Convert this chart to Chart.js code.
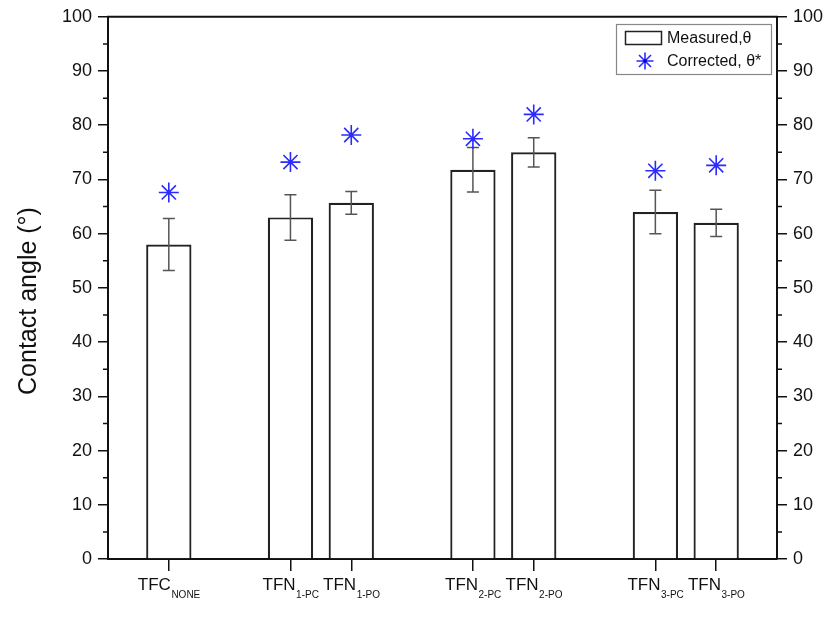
<!DOCTYPE html>
<html>
<head>
<meta charset="utf-8">
<script src="https://cdn.jsdelivr.net/npm/chart.js@4.4.1/dist/chart.umd.min.js"></script>
<style>
    html, body { margin: 0; padding: 0; background: #fff; }
    #wrap { width: 831px; height: 638px; position: relative; }
</style>
</head>
<body>
<div id="wrap"><canvas id="chart"></canvas></div>
<script>
// sample names: main text + subscript
const labelMain = ['TFC', 'TFN', 'TFN', 'TFN', 'TFN', 'TFN', 'TFN'];
const labelSub = ['NONE', '1-PC', '1-PO', '2-PC', '2-PO', '3-PC', '3-PO'];
const positions = [1, 3, 4, 6, 7, 9, 10];
const measured = [58.0, 63.0, 65.7, 71.8, 75.0, 64.0, 62.0];
const errors = [4.8, 4.2, 2.1, 4.1, 2.7, 4.0, 2.5];
const corrected = [67.6, 73.2, 78.2, 77.5, 82.0, 71.6, 72.6];
const yTicks = [0, 10, 20, 30, 40, 50, 60, 70, 80, 90, 100];
const yMinor = [5, 15, 25, 35, 45, 55, 65, 75, 85, 95];

const FONT = '"Liberation Sans", Arial, Helvetica, sans-serif';
const STAR = '#2b2bff';

function drawStar(ctx, x, y, r) {
    ctx.save();
    ctx.strokeStyle = STAR;
    ctx.lineWidth = 1.6;
    ctx.beginPath();
    for (let k = 0; k < 4; k++) {
        const a = k * Math.PI / 4;
        ctx.moveTo(x - r * Math.cos(a), y - r * Math.sin(a));
        ctx.lineTo(x + r * Math.cos(a), y + r * Math.sin(a));
    }
    ctx.stroke();
    ctx.fillStyle = '#0000cc';
    ctx.beginPath();
    ctx.arc(x, y, 1.8, 0, Math.PI * 2);
    ctx.fill();
    ctx.restore();
}

const decorations = {
    id: 'decorations',
    afterDatasetDraw(chart, args) {
        if (args.meta.type !== 'bar') return;
        const x = chart.scales.x, y = chart.scales.y, ctx = chart.ctx;
        ctx.save();
        ctx.strokeStyle = '#555';
        ctx.lineWidth = 1.5;
        positions.forEach((p, i) => {
            const px = x.getPixelForValue(p);
            const top = y.getPixelForValue(measured[i] + errors[i]);
            const bot = y.getPixelForValue(measured[i] - errors[i]);
            ctx.beginPath();
            ctx.moveTo(px, top); ctx.lineTo(px, bot);
            ctx.moveTo(px - 6, top); ctx.lineTo(px + 6, top);
            ctx.moveTo(px - 6, bot); ctx.lineTo(px + 6, bot);
            ctx.stroke();
        });
        ctx.restore();
    },
    afterDraw(chart) {
        const ctx = chart.ctx;
        const area = chart.chartArea;
        const x = chart.scales.x, y = chart.scales.y;
        ctx.save();

        // top frame
        ctx.strokeStyle = '#111';
        ctx.lineWidth = 2;
        ctx.beginPath();
        ctx.moveTo(area.left - 1, area.top);
        ctx.lineTo(area.right + 1, area.top);
        ctx.stroke();

        // minor ticks on both y axes
        ctx.lineWidth = 1.5;
        ctx.beginPath();
        yMinor.forEach(v => {
            const py = y.getPixelForValue(v);
            ctx.moveTo(area.left, py); ctx.lineTo(area.left - 5, py);
            ctx.moveTo(area.right, py); ctx.lineTo(area.right + 5, py);
        });
        ctx.stroke();

        // x labels with subscripts
        ctx.fillStyle = '#111';
        ctx.textBaseline = 'alphabetic';
        ctx.textAlign = 'left';
        positions.forEach((p, i) => {
            const px = x.getPixelForValue(p);
            ctx.font = '17px ' + FONT;
            const w1 = ctx.measureText(labelMain[i]).width;
            ctx.font = '10px ' + FONT;
            const w2 = ctx.measureText(labelSub[i]).width;
            const start = px - (w1 + w2) / 2;
            ctx.font = '17px ' + FONT;
            ctx.fillText(labelMain[i], start, 590);
            ctx.font = '10px ' + FONT;
            ctx.fillText(labelSub[i], start + w1 + 0.5, 598);
        });

        // y title
        ctx.save();
        ctx.translate(29, 301);
        ctx.rotate(-Math.PI / 2);
        ctx.textAlign = 'center';
        ctx.textBaseline = 'middle';
        ctx.font = '25px ' + FONT;
        ctx.fillText('Contact angle (\u00b0)', 0, 0);
        ctx.restore();

        // legend
        ctx.strokeStyle = '#888';
        ctx.lineWidth = 1.2;
        ctx.strokeRect(616.5, 24.5, 155, 50);
        ctx.strokeStyle = '#222';
        ctx.lineWidth = 1.5;
        ctx.strokeRect(625.5, 31.5, 36, 13);
        drawStar(ctx, 645, 61, 8.5);
        ctx.fillStyle = '#111';
        ctx.font = '16px ' + FONT;
        ctx.textBaseline = 'middle';
        ctx.textAlign = 'left';
        ctx.fillText('Measured,\u03b8', 667, 39);
        ctx.fillText('Corrected, \u03b8*', 667, 62);

        ctx.restore();
    }
};

const yScaleBase = {
    min: 0,
    max: 100,
    afterBuildTicks: s => { s.ticks = yTicks.map(v => ({ value: v })); },
    grid: { drawOnChartArea: false, drawTicks: true, tickLength: 10, color: '#111', lineWidth: 1.5 },
    border: { display: true, color: '#111', width: 2 },
    ticks: { autoSkip: false, color: '#111', font: { family: FONT, size: 18 }, padding: 6 }
};

new Chart(document.getElementById('chart'), {
    type: 'bar',
    data: {
        datasets: [{
            type: 'bar',
            label: 'Measured',
            data: positions.map((p, i) => ({ x: p, y: measured[i] })),
            backgroundColor: '#fff',
            borderColor: '#222',
            borderWidth: 2.2,
            categoryPercentage: 1,
            barPercentage: 0.745,
            order: 2
        }, {
            type: 'line',
            label: 'Corrected',
            data: positions.map((p, i) => ({ x: p, y: corrected[i] })),
            showLine: false,
            pointStyle: 'star',
            pointRadius: 10,
            pointBorderWidth: 1.6,
            pointBorderColor: STAR,
            pointBackgroundColor: STAR,
            order: 1
        }]
    },
    options: {
        responsive: true,
        maintainAspectRatio: false,
        animation: false,
        layout: { padding: { top: 15, left: 0, right: 0, bottom: 0 } },
        plugins: { legend: { display: false }, tooltip: { enabled: false } },
        scales: {
            x: {
                type: 'linear',
                min: 0,
                max: 11,
                offset: false,
                afterBuildTicks: s => { s.ticks = positions.map(v => ({ value: v })); },
                afterFit: s => { s.height = 79; },
                grid: { offset: false, drawOnChartArea: false, drawTicks: true, tickLength: 12, color: '#111', lineWidth: 1.5 },
                border: { display: true, color: '#111', width: 2 },
                ticks: { autoSkip: false, callback: () => '' }
            },
            y: Object.assign({}, yScaleBase, {
                position: 'left',
                afterFit: s => { s.width = 108; }
            }),
            y2: Object.assign({}, yScaleBase, {
                position: 'right',
                afterFit: s => { s.width = 54; }
            })
        }
    },
    plugins: [decorations]
});
</script>
</body>
</html>
